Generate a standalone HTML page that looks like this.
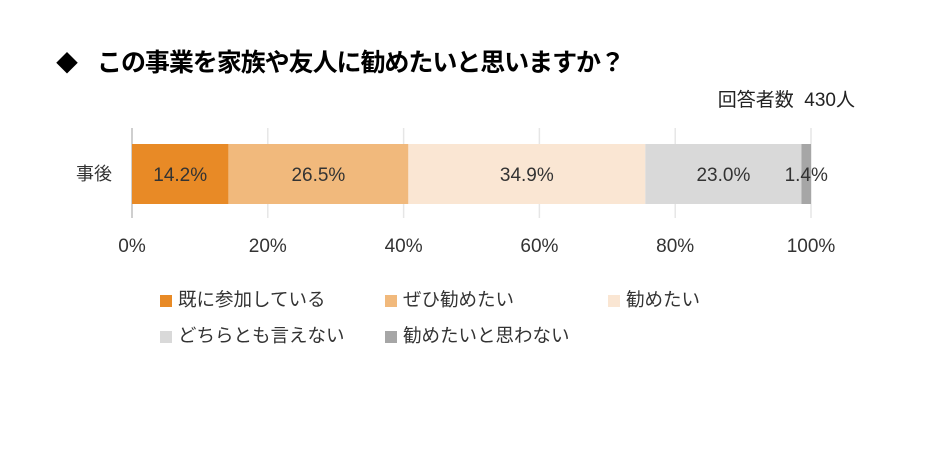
<!DOCTYPE html>
<html><head><meta charset="utf-8"><style>
body{margin:0;background:#fff;width:945px;height:454px;overflow:hidden;font-family:"Liberation Sans","Noto Sans CJK JP",sans-serif;}
</style></head><body>
<svg width="945" height="454" xmlns="http://www.w3.org/2000/svg" style="font-family:'Liberation Sans','Noto Sans CJK JP',sans-serif">
<text x="56" y="71" font-size="22" font-weight="bold" fill="#000">◆</text>
<text x="97" y="71" font-size="25" font-weight="bold" fill="#000" textLength="528">この事業を家族や友人に勧めたいと思いますか？</text>
<text x="855" y="106" font-size="19" fill="#222" text-anchor="end">回答者数&#160;&#160;430人</text>
<g id="grid"></g><g id="bars"></g><g id="labels"></g><g id="ticks"></g><g id="legend"></g>
<text x="112" y="180" font-size="18" fill="#333" text-anchor="end">事後</text>
</svg>
<script>
const categories=["既に参加している","ぜひ勧めたい","勧めたい","どちらとも言えない","勧めたいと思わない"];
const values=[14.2,26.5,34.9,23.0,1.4];
const valueLabels=["14.2%","26.5%","34.9%","23.0%","1.4%"];
const tickValues=[0,20,40,60,80,100];
const tickLabels=["0%","20%","40%","60%","80%","100%"];
const colors=["#e88a26","#f1b97c","#fae6d3","#d9d9d9","#a6a6a6"];
const NS="http://www.w3.org/2000/svg";
const x0=132,x1=811,barY=144,barH=60;
function xs(v){return x0+(x1-x0)*v/100;}
function mk(t,a,p){const e=document.createElementNS(NS,t);for(const k in a)e.setAttribute(k,a[k]);document.getElementById(p).appendChild(e);return e;}
tickValues.forEach((t,i)=>{
 const l=mk('line',{x1:xs(t),x2:xs(t),y1:128,y2:218,stroke:i==0?'#bfbfbf':'#e6e6e6','stroke-width':1.5},'grid');
 
 
 const tx=mk('text',{x:xs(t),y:252,'font-size':19,fill:'#333','text-anchor':'middle'},'ticks');
 tx.textContent=tickLabels[i];
 
 
});
let cum=0;
values.forEach((v,i)=>{
 const r=mk('rect',{x:xs(cum),y:barY,width:xs(cum+v)-xs(cum),height:barH,fill:colors[i]},'bars');
 
 
 const t=mk('text',{x:(xs(cum)+xs(cum+v))/2,y:181,'font-size':19,fill:'#333','text-anchor':'middle'},'labels');
 t.textContent=valueLabels[i];
 
 
 cum+=v;
});
const legX=[160,385,608],legY=[295,331];
categories.forEach((c,i)=>{
 const lx=legX[i%3],ly=legY[Math.floor(i/3)];
 const s=mk('rect',{x:lx,y:ly,width:12,height:12,fill:colors[i]},'legend');
 
 
 const t=mk('text',{x:lx+18,y:ly+11,'font-size':18.5,fill:'#333'},'legend');
 t.textContent=c;
 
 
});
</script>
</body></html>
